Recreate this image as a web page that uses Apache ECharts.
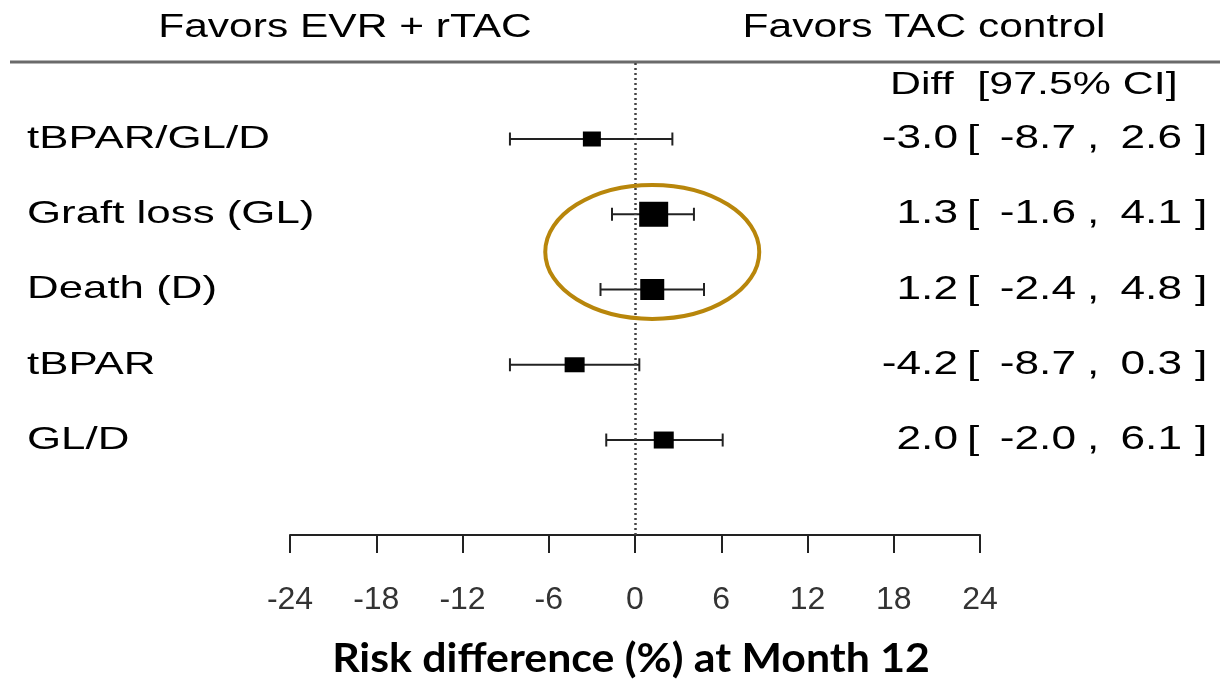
<!DOCTYPE html>
<html><head><meta charset="utf-8">
<script src="https://cdn.jsdelivr.net/npm/echarts@6/dist/echarts.min.js"></script>
<style>html,body{margin:0;padding:0;background:#fff}#c{width:1220px;height:680px}</style>
</head><body><div id="c"></div>
<script>
// ---- data ----
const labels = ['tBPAR/GL/D', 'Graft loss (GL)', 'Death (D)', 'tBPAR', 'GL/D'];
const diff = [-3.0, 1.3, 1.2, -4.2, 2.0];
const ciLow = [-8.7, -1.6, -2.4, -8.7, -2.0];
const ciHigh = [2.6, 4.1, 4.8, 0.3, 6.1];
const boxWidths = [18, 29, 24, 20, 20];   // relative weight boxes
const boxHeights = [15, 25, 21, 15, 17];
const xTicks = [-24, -18, -12, -6, 0, 6, 12, 18, 24];
const headerLeft = 'Favors EVR + rTAC';
const headerRight = 'Favors TAC control';
const colHeader = 'Diff  [97.5% CI]';
const axisTitle = 'Risk difference (%) at Month 12';
const highlightRows = [1, 2];

const FONT = "'Liberation Sans', Arial, sans-serif";
const SX = 1.34;
const fmt = v => v.toFixed(1);

function txt(x, y, text, size, align, opts) {
  opts = opts || {};
  return {
    type: 'text', x: x, y: y, scaleX: opts.sx || SX, scaleY: 1,
    style: {
      text: text, x: 0, y: 0, fill: opts.fill || '#000',
      fontSize: size, fontFamily: opts.family || FONT, fontWeight: opts.weight || 'normal',
      align: align, verticalAlign: 'middle', textAlign: align, textVerticalAlign: 'middle'
    }
  };
}

const chart = echarts.init(document.getElementById('c'), null, { renderer: 'canvas' });
const rowsData = labels.map((l, i) => [ciLow[i], ciHigh[i], diff[i], i]);

const graphics = [
  { type: 'line', shape: { x1: 10, y1: 62, x2: 1220, y2: 62 }, style: { stroke: '#6a6a6a', lineWidth: 3 } },
  txt(345, 28, headerLeft, 34, 'center', { sx: 1.25 }),
  txt(924, 28, headerRight, 34, 'center', { sx: 1.25 }),
  txt(890, 85, colHeader, 32, 'left'),
  txt(631, 659, axisTitle, 40, 'center', { sx: 1.07, family: "Lato, 'Open Sans', sans-serif", weight: 'bold' })
];

chart.setOption({
  animation: false,
  backgroundColor: '#fff',
  grid: { left: 290, right: 240, top: 63, bottom: 145 },
  xAxis: {
    type: 'value', min: xTicks[0], max: xTicks[xTicks.length - 1], interval: 6,
    axisLine: { show: true, onZero: false, lineStyle: { color: '#222', width: 2 } },
    axisTick: { show: true, length: 18, lineStyle: { color: '#222', width: 2 } },
    axisLabel: { fontSize: 32, fontFamily: FONT, color: '#333', margin: 49 },
    splitLine: { show: false }
  },
  yAxis: { type: 'value', min: -1.01, max: 5.262, inverse: true, show: false },
  series: [
    {
      type: 'custom',
      data: rowsData,
      clip: false,
      renderItem: function (params, api) {
        const i = params.dataIndex;
        const lo = api.coord([api.value(0), api.value(3)]);
        const hi = api.coord([api.value(1), api.value(3)]);
        const c = api.coord([api.value(2), api.value(3)]);
        const cap = 6.5;
        const ls = { stroke: '#222', lineWidth: 2 };
        return {
          type: 'group', children: [
            { type: 'line', shape: { x1: lo[0], y1: lo[1], x2: hi[0], y2: hi[1] }, style: ls },
            { type: 'line', shape: { x1: lo[0], y1: lo[1] - cap, x2: lo[0], y2: lo[1] + cap }, style: ls },
            { type: 'line', shape: { x1: hi[0], y1: hi[1] - cap, x2: hi[0], y2: hi[1] + cap }, style: ls },
            { type: 'rect', shape: { x: c[0] - boxWidths[i] / 2, y: c[1] - boxHeights[i] / 2, width: boxWidths[i], height: boxHeights[i] }, style: { fill: '#000' } }
          ]
        };
      },
      markLine: {
        silent: true, symbol: ['none', 'none'], label: { show: false },
        lineStyle: { color: '#444', width: 2.5, type: [2, 3] },
        data: [{ xAxis: 0 }]
      },
      z: 3
    },
    {
      type: 'custom',
      data: rowsData,
      clip: false,
      renderItem: function (params, api) {
        const i = params.dataIndex;
        const y = api.coord([0, api.value(3)])[1];
        return {
          type: 'group', children: [
            txt(27, y, labels[i], 32, 'left', { sx: 1.37 }),
            txt(958, y, fmt(diff[i]), 33, 'right'),
            txt(967, y, '[', 33, 'left'),
            txt(1076, y, fmt(ciLow[i]), 33, 'right'),
            txt(1087, y, ',', 33, 'left'),
            txt(1182, y, fmt(ciHigh[i]), 33, 'right'),
            txt(1195, y, ']', 33, 'left')
          ]
        };
      },
      z: 4
    }
  ],
  graphic: graphics
});

// highlight ellipse around the two highlighted rows, placed through the axes
const hx = (Math.min(...highlightRows.map(r => ciLow[r])) + Math.max(...highlightRows.map(r => ciHigh[r]))) / 2;
const pA = chart.convertToPixel({ gridIndex: 0 }, [hx, highlightRows[0]]);
const pB = chart.convertToPixel({ gridIndex: 0 }, [hx, highlightRows[highlightRows.length - 1]]);
graphics.push({ type: 'ellipse', shape: { cx: pA[0], cy: (pA[1] + pB[1]) / 2, rx: 107, ry: 67 },
  style: { fill: 'none', stroke: '#B8860B', lineWidth: 4 }, z: 10 });
chart.setOption({ graphic: graphics }, { replaceMerge: ['graphic'] });
</script>
</body></html>
